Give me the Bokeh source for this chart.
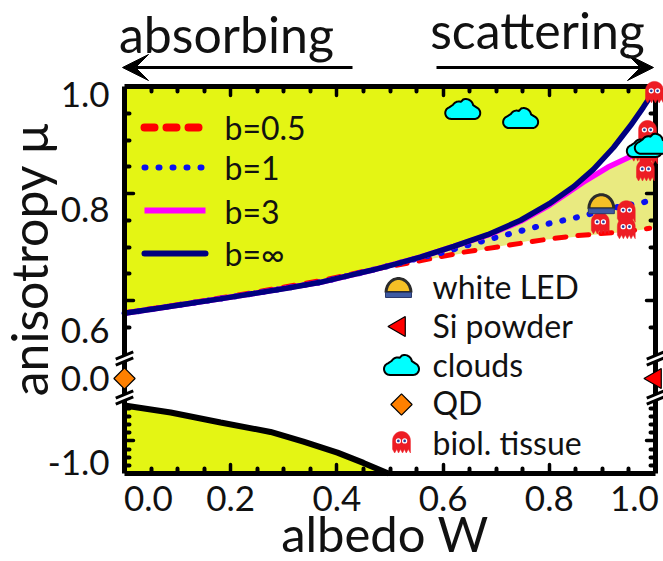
import numpy as np
from bokeh.plotting import figure
from bokeh.models import Range1d, LinearAxis, FixedTicker, Arrow, VeeHead
from bokeh.core.properties import value
from bokeh.embed import file_html
from bokeh.resources import INLINE

FONT = "Lato"
YEL = "#E4F514"
PALE = "#E9EA80"

# ---- data
w_inf = [0, .06, .119, .18, .243, .305, .369, .416, .463, .51, .557, .62, .684, .746, .8, .846, .883, .921, .953, .977, .994, 1.0]
mu_inf = [.576, .585, .594, .603, .613, .623, .634, .645, .656, .668, .681, .701, .723, .75, .781, .813, .845, .886, .927, .961, .987, 1.0]
w_b3 = [0, .119, .243, .369, .463, .557, .62, .684, .746, .8, .83, .864, .91, .953, 1.0]
mu_b3 = [.576, .594, .613, .634, .656, .681, .701, .722, .748, .778, .798, .821, .849, .869, .9]
w_b1 = [0, .119, .243, .369, .463, .557, .601, .652, .70, .75, .80, .85, .925, .975, .998]
mu_b1 = [.576, .594, .613, .634, .656, .680, .69, .705, .718, .731, .744, .755, .774, .783, .789]
w_b05 = [0, .119, .243, .369, .463, .561, .637, .721, .806, .85, .943, .989]
mu_b05 = [.577, .595, .615, .637, .657, .675, .69, .703, .716, .721, .729, .735]
w_low = [0, .087, .181, .275, .337, .401, .45, .497]
mu_low = [-.583, -.626, -.687, -.745, -.805, -.872, -.935, -1.0]
w_pale = [.56, .6, .65, .7, .76, .82, .894, .951, 1.0]
mu_pale_top = [.682, .694, .71, .731, .757, .79, .837, .867, .9]
mu_pale_bot = [.675, .682, .69, .70, .711, .716, .724, .729, .736]

tissue_w = [.998, .985, .972, .987, .981, .896, .945, .945]
tissue_mu = [.989, .916, .880, .875, .843, .744, .766, .735]
cloud_w = [.637, .746, .979, .994]
cloud_mu = [.957, .940, .886, .892]
led_w = [.898]
led_mu = [.781]
si_w = [1.0]
si_mu = [0.0]
qd_w = [0.0]
qd_mu = [0.0]

x_major = [.2, .4, .6, .8]
x_minor = [.05, .1, .15, .25, .3, .35, .45, .5, .55, .65, .7, .75, .85, .9, .95]
x_tick_text = ["0.0", "0.2", "0.4", "0.6", "0.8", "1.0"]
y_major = [.8, .6, -.8]
y_minor = [.95, .9, .85, .75, .7, .65, .55, -.6, -.65, -.7, -.75, -.85, -.9, -.95]
y_tick_text = ["1.0", "0.8", "0.6", "0.0", "-1.0"]
curve_names = ["b=0.5", "b=1", "b=3", "b=\u221e"]
marker_names = ["white LED", "Si powder", "clouds", "QD", "biol. tissue"]

# ---- scales of the three-part axis and pixel helpers for layout
L, R, T, B = 124.0, 655.0, 86.0, 473.0
SX, SY = 531.0, 535.0

def ax(mu):
    mu = np.asarray(mu, dtype=float)
    up = mu
    mid = 1 - (378 - T) / SY + mu * 0.05
    low = 1 - (B - T) / SY + (mu + 1) * 163 / SY
    return np.where(mu >= .4, up, np.where(mu > -.4, mid, low))

def px(x):
    return (np.asarray(x, dtype=float) - L) / SX

def py(y):
    return 1 - (np.asarray(y, dtype=float) - T) / SY

def to_px(w, mu):
    return L + np.asarray(w) * SX, T + (1 - ax(mu)) * SY

p = figure(width=663, height=561, output_backend="svg", toolbar_location=None,
           x_axis_type=None, y_axis_type=None, min_border=0,
           x_range=Range1d(float(px(0)), float(px(663))),
           y_range=Range1d(float(py(561)), float(py(0))),
           background_fill_color="white", border_fill_color="white", outline_line_color=None)
p.grid.visible = False

# ---- fills
p.varea(x=w_inf, y1=ax(mu_inf), y2=[1.0] * len(w_inf), fill_color=YEL)
p.varea(x=w_low, y1=ax(mu_low), y2=ax([-1.0] * len(w_low)), fill_color=YEL)
p.varea(x=w_pale, y1=ax(mu_pale_top), y2=ax(mu_pale_bot), fill_color=PALE)

# ---- curves
p.line(w_b05, ax(mu_b05), line_color="#FF0000", line_width=5, line_dash="11 12", line_cap="round")
p.line(w_b1, ax(mu_b1), line_color="#0A10F0", line_width=6, line_dash="1 13", line_cap="round")
p.line(w_b3, ax(mu_b3), line_color="#FF00FF", line_width=5.5)
p.line(w_inf, ax(mu_inf), line_color="#00007F", line_width=5.5)
p.line(w_low, ax(mu_low), line_color="black", line_width=6)

# ---- axes: one set carries the ticks, another one the offset tick labels
def tick_axis(cls_side, loc, bounds, major, minor):
    a = LinearAxis(fixed_location=loc, bounds=bounds,
                   ticker=FixedTicker(ticks=major, minor_ticks=minor),
                   major_label_text_font_size="0px", major_label_text_color=None,
                   major_tick_in=9, major_tick_out=0, minor_tick_in=5, minor_tick_out=0,
                   major_tick_line_width=3.5, minor_tick_line_width=4,
                   major_tick_line_color="black", minor_tick_line_color="black",
                   major_tick_line_cap="round", minor_tick_line_cap="round",
                   axis_line_width=5, axis_line_color="black")
    p.add_layout(a, cls_side)

y_ticks = [float(v) for v in ax(y_major)]
y_mins = [float(v) for v in ax(y_minor)]
y_bounds = (float(ax(-1.0)), 1.0)
tick_axis("below", float(ax(-1.0)), (0.0, 1.0), x_major, x_minor)
tick_axis("above", 1.0, (0.0, 1.0), x_major, x_minor)
tick_axis("left", 0.0, y_bounds, y_ticks, y_mins)
tick_axis("right", 1.0, y_bounds, y_ticks, y_mins)

xl_pos = [float(px(148)), .2, .4, .6, .8, float(px(634))]
xa = LinearAxis(fixed_location=float(ax(-1.0)), bounds=(-.01, .99),
                ticker=FixedTicker(ticks=xl_pos),
                major_label_overrides=dict(zip(xl_pos, x_tick_text)),
                major_label_text_font=FONT, major_label_text_font_size="35px",
                major_label_text_color="#111111", major_label_standoff=6,
                major_tick_line_color=None, minor_tick_line_color=None, axis_line_color=None,
                axis_label="albedo W", axis_label_text_font=FONT, axis_label_text_font_size="49px",
                axis_label_text_font_style="normal", axis_label_text_color="#111111",
                axis_label_standoff=-10)
p.add_layout(xa, "below")

yl_pos = [float(py(v)) for v in (94, 209, 330, 378, 462)]
ya = LinearAxis(fixed_location=0.0, bounds=(float(py(474)), float(py(44))),
                ticker=FixedTicker(ticks=yl_pos),
                major_label_overrides=dict(zip(yl_pos, y_tick_text)),
                major_label_text_font=FONT, major_label_text_font_size="35px",
                major_label_text_color="#111111", major_label_standoff=9,
                major_label_orientation="horizontal",
                major_tick_line_color=None, minor_tick_line_color=None, axis_line_color=None,
                axis_label="anisotropy \u03bc", axis_label_text_font=FONT, axis_label_text_font_size="50px",
                axis_label_text_font_style="normal", axis_label_text_color="#111111",
                axis_label_standoff=-14)
p.add_layout(ya, "left")

# ---- axis breaks
for sx_ in (L, R):
    for sy_ in (358.0, 397.0):
        p.scatter([float(px(sx_))], [float(py(sy_))], marker="dash", size=20, angle=.4,
                  line_color="white", line_width=6, level="overlay")
        for d in (-3.0, 3.0):
            p.scatter([float(px(sx_))], [float(py(sy_ + d))], marker="dash", size=19, angle=.4,
                      line_color="black", line_width=3, level="overlay")

# ---- marker shapes (pixel outlines around a centre)
def arc(cx, cy, r, a0, a1, n=14):
    t = np.radians(np.linspace(a0, a1, n))
    return cx + r * np.cos(t), cy - r * np.sin(t)

def ghost_shape(cx, cy, s=1.05):
    ax_, ay_ = arc(0, -2, 8.5, 180, 0)
    zx = np.array([8.5, 8.5, 6.5, 4.5, 2.8, 1, -1, -2.8, -4.5, -6.5, -8.5, -8.5])
    zy = np.array([-2, 10, 6.5, 10, 6.5, 10, 6.5, 10, 6.5, 10, 6.5, -2]) + 0.0
    x = np.concatenate([ax_, zx]) * s + cx
    y = np.concatenate([ay_, zy]) * s + cy
    return x, y

def cloud_shape(cx, cy, s=1.0):
    parts = [arc(-11.5, 3.5, 6, 270, 110), arc(-4, -1.5, 6.5, 150, 70),
             arc(3, -3, 7.5, 110, 10), arc(11.5, 3.5, 6, 60, -90)]
    x = np.concatenate([a for a, _ in parts]) * s + cx
    y = np.concatenate([b for _, b in parts]) * s + cy
    return x, y

def draw_ghosts(xs, ys, s=1.05):
    for cx, cy in zip(xs, ys):
        x, y = ghost_shape(cx, cy, s)
        p.patch(px(x), py(y), fill_color="#ED1C24", line_color="#ED1C24", line_width=.5, level="overlay")
        ex = [cx - 3 * s, cx + 3 * s]
        ey = [cy - 1.5 * s, cy - 1.5 * s]
        p.scatter(px(ex), py(ey), marker="circle", size=5 * s, fill_color="white", line_color=None, level="overlay")
        p.scatter(px(ex), py(ey), marker="circle", size=2.6 * s, fill_color="#2B3A9B", line_color=None, level="overlay")

def draw_clouds(xs, ys):
    for cx, cy in zip(xs, ys):
        x, y = cloud_shape(cx, cy)
        p.patch(px(x), py(y), fill_color="#00FFFF", line_color="black", line_width=2, level="overlay")

def draw_led(cx, cy):
    ax_, ay_ = arc(cx, cy + 5, 12.5, 180, 0)
    ay_ = cy + 5 - (cy + 5 - ay_) * 14 / 12.5
    p.patch(px(ax_), py(ay_), fill_color="#F5C026", line_color="#2B2B2B", line_width=3, level="overlay")
    p.patch(px([cx - 13, cx + 13, cx + 13, cx - 13]), py([cy + 5, cy + 5, cy + 10, cy + 10]),
            fill_color="#3E5AA2", line_color="#2B3A6B", line_width=1, level="overlay")

def draw_tri(sx_, sy_):
    p.scatter(px([sx_]), py([sy_]), marker="triangle", size=20, angle=np.pi / 2, fill_color="#FF0000",
              line_color="black", line_width=1.2, level="overlay")

def draw_dia(sx_, sy_):
    p.scatter(px([sx_]), py([sy_]), marker="square", size=15, angle=np.pi / 4, fill_color="#FF8000",
              line_color="black", line_width=1.2, level="overlay")

tx, ty = to_px(tissue_w, tissue_mu)
cx_, cy_ = to_px(cloud_w, cloud_mu)
lx, ly = to_px(led_w, led_mu)
sx1, sy1 = to_px(si_w, si_mu)
qx, qy = to_px(qd_w, qd_mu)
draw_ghosts(tx, ty)
draw_clouds(cx_, cy_)
draw_led(lx[0], ly[0])
draw_tri(sx1[0], sy1[0])
draw_dia(qx[0], qy[0])

# ---- hand-placed legends
leg_x = [144, 205]
for yy, kw in zip((127, 167, 210, 253), (
        dict(line_color="#FF0000", line_width=8, line_dash="10 12", line_cap="round"),
        dict(line_color="#0A10F0", line_width=6, line_dash="1 13", line_cap="round"),
        dict(line_color="#FF00FF", line_width=6),
        dict(line_color="#00007F", line_width=6, line_cap="round"))):
    p.line(px(leg_x), py([yy, yy]), level="overlay", **kw)

def put_text(x, y, s, size, **kw):
    p.text(px([x]), py([y]), text=[s], text_font=value(FONT), text_font_size=size,
           text_color="#111111", text_baseline="middle", level="overlay", **kw)

for yy, s in zip((127, 167, 211, 253), curve_names):
    put_text(224, yy, s, "32px")
for yy, s in zip((286, 325, 364, 402, 442), marker_names):
    put_text(432, yy, s, "32px")

draw_led(398, 287)
draw_tri(399, 326)
draw_clouds([401], [365])
draw_dia(401, 404)
draw_ghosts([401], [442])

# ---- headers and arrows
put_text(226, 33, "absorbing", "50px", text_align="center")
put_text(537, 29, "scattering", "50px", text_align="center")
for a, b in ((352, 122), (436, 653)):
    p.add_layout(Arrow(end=VeeHead(size=26, fill_color="black", line_color="black"),
                       x_start=float(px(a)), x_end=float(px(b)),
                       y_start=float(py(67)), y_end=float(py(67)),
                       line_color="black", line_width=3))

open("out.html", "w").write(file_html(p, INLINE))
